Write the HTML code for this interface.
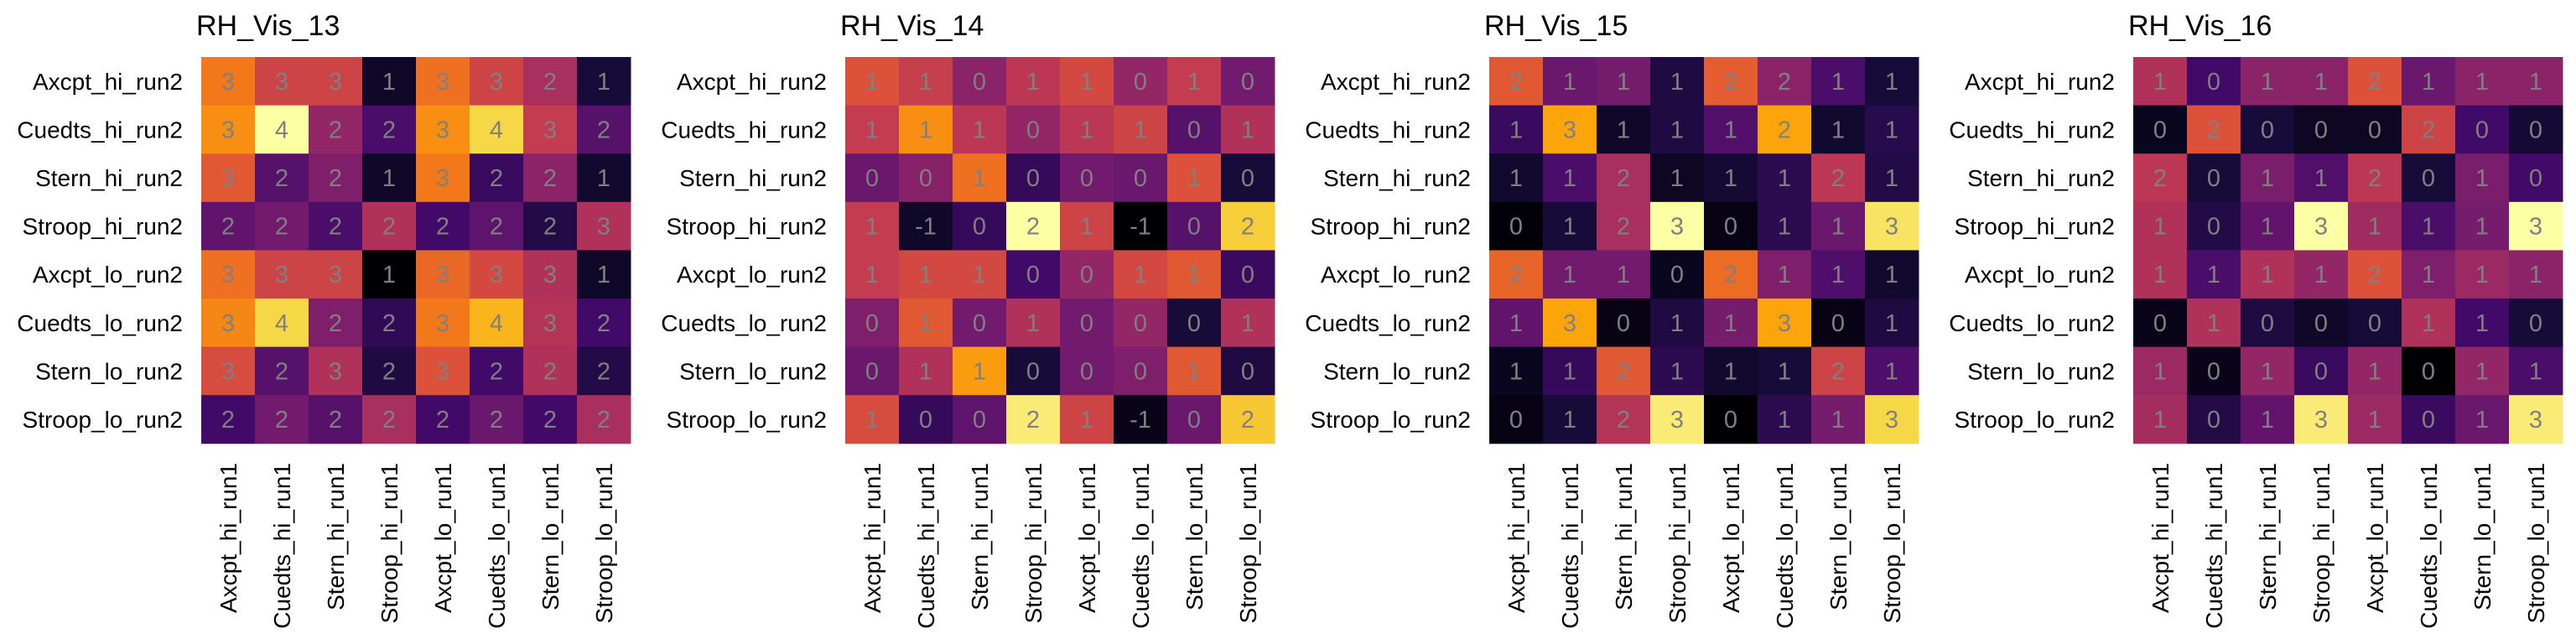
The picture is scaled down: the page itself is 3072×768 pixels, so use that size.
<!DOCTYPE html>
<html><head><meta charset="utf-8"><style>
html,body{margin:0;padding:0;background:#fff;}
svg{display:block;font-family:"Liberation Sans",Arial,sans-serif;}
</style></head><body>
<svg id="chart" width="3072" height="768" viewBox="0 0 3072 768" xmlns="http://www.w3.org/2000/svg"></svg>
<script>
const titles = ["RH_Vis_13","RH_Vis_14","RH_Vis_15","RH_Vis_16"];
const rowLabels = ["Axcpt_hi_run2","Cuedts_hi_run2","Stern_hi_run2","Stroop_hi_run2","Axcpt_lo_run2","Cuedts_lo_run2","Stern_lo_run2","Stroop_lo_run2"];
const colLabels = ["Axcpt_hi_run1","Cuedts_hi_run1","Stern_hi_run1","Stroop_hi_run1","Axcpt_lo_run1","Cuedts_lo_run1","Stern_lo_run1","Stroop_lo_run1"];
const labels13 = [[3,3,3,1,3,3,2,1],[3,4,2,2,3,4,3,2],[3,2,2,1,3,2,2,1],[2,2,2,2,2,2,2,3],[3,3,3,1,3,3,3,1],[3,4,2,2,3,4,3,2],[3,2,3,2,3,2,2,2],[2,2,2,2,2,2,2,2]];
const shade13 = [[0.7,0.55,0.55,0.07,0.68,0.55,0.45,0.1],[0.75,1.0,0.4,0.22,0.75,0.9,0.52,0.25],[0.62,0.25,0.35,0.07,0.7,0.18,0.38,0.08],[0.28,0.32,0.22,0.47,0.2,0.27,0.13,0.47],[0.68,0.55,0.55,0.0,0.66,0.57,0.47,0.07],[0.73,0.9,0.35,0.16,0.7,0.83,0.48,0.2],[0.58,0.25,0.47,0.12,0.6,0.2,0.47,0.13],[0.2,0.32,0.25,0.45,0.2,0.3,0.2,0.45]];
const labels14 = [[1,1,0,1,1,0,1,0],[1,1,1,0,1,1,0,1],[0,0,1,0,0,0,1,0],[1,-1,0,2,1,-1,0,2],[1,1,1,0,0,1,1,0],[0,1,0,1,0,0,0,1],[0,1,1,0,0,0,1,0],[1,0,0,2,1,-1,0,2]];
const shade14 = [[0.6,0.53,0.38,0.5,0.57,0.4,0.52,0.32],[0.52,0.75,0.5,0.4,0.5,0.55,0.25,0.47],[0.3,0.37,0.68,0.17,0.32,0.3,0.6,0.1],[0.52,0.07,0.17,1.0,0.55,0.0,0.25,0.88],[0.52,0.57,0.57,0.2,0.4,0.57,0.62,0.18],[0.35,0.62,0.32,0.47,0.32,0.4,0.1,0.47],[0.3,0.47,0.78,0.1,0.32,0.35,0.62,0.12],[0.58,0.17,0.27,0.95,0.55,0.04,0.3,0.87]];
const labels15 = [[2,1,1,1,2,2,1,1],[1,3,1,1,1,2,1,1],[1,1,2,1,1,1,2,1],[0,1,2,3,0,1,1,3],[2,1,1,0,2,1,1,1],[1,3,0,1,1,3,0,1],[1,1,2,1,1,1,2,1],[0,1,2,3,0,1,1,3]];
const shade15 = [[0.62,0.3,0.33,0.12,0.63,0.38,0.22,0.1],[0.18,0.8,0.07,0.12,0.24,0.8,0.08,0.14],[0.08,0.22,0.45,0.06,0.09,0.15,0.5,0.13],[0.01,0.1,0.45,1.0,0.03,0.15,0.3,0.93],[0.65,0.32,0.32,0.05,0.67,0.35,0.23,0.08],[0.28,0.8,0.03,0.12,0.33,0.8,0.03,0.12],[0.05,0.17,0.62,0.15,0.08,0.1,0.55,0.23],[0.03,0.1,0.48,0.95,0.0,0.15,0.33,0.9]];
const labels16 = [[1,0,1,1,2,1,1,1],[0,2,0,0,0,2,0,0],[2,0,1,1,2,0,1,0],[1,0,1,3,1,1,1,3],[1,1,1,1,2,1,1,1],[0,1,0,0,0,1,1,0],[1,0,1,0,1,0,1,1],[1,0,1,3,1,0,1,3]];
const shade16 = [[0.47,0.2,0.38,0.38,0.6,0.3,0.38,0.38],[0.05,0.6,0.1,0.06,0.06,0.55,0.2,0.09],[0.5,0.1,0.34,0.24,0.5,0.1,0.34,0.2],[0.47,0.13,0.28,1.0,0.43,0.22,0.33,1.0],[0.47,0.22,0.47,0.4,0.6,0.35,0.42,0.38],[0.04,0.47,0.12,0.07,0.1,0.47,0.2,0.1],[0.42,0.04,0.4,0.18,0.4,0.0,0.4,0.22],[0.44,0.13,0.28,0.95,0.42,0.18,0.3,0.95]];
const allLabels = [labels13,labels14,labels15,labels16];
const allShades = [shade13,shade14,shade15,shade16];

const inferno = [[0,0,4],[22,11,57],[66,10,104],[106,23,110],[147,38,103],[188,55,84],[221,81,58],[243,120,25],[252,165,10],[246,215,70],[252,255,164]];
function colorAt(t){
  t=Math.max(0,Math.min(1,t))*10; const i=Math.min(9,Math.floor(t)); const f=t-i;
  const a=inferno[i], b=inferno[i+1];
  return 'rgb('+a.map((v,k)=>Math.round(v+(b[k]-v)*f)).join(',')+')';
}
const NS="http://www.w3.org/2000/svg";
const svg=document.getElementById('chart');
const panelW=768, x0=240, y0=68, cw=64, ch=57.6;
function xPos(p,c){return p*panelW+x0+c*cw;}
function yPos(r){return y0+r*ch;}
function mk(tag,attrs,parent){const e=document.createElementNS(NS,tag);for(const k in attrs)e.setAttribute(k,attrs[k]);(parent||svg).appendChild(e);return e;}

titles.forEach((title,p)=>{
  const g=mk('g',{});
  
  
  const t=mk('text',{x:p*panelW+234,y:42,'font-size':34,fill:'#000'},g);
  t.textContent=title;
  
  
  rowLabels.forEach((lab,r)=>{
    const e=mk('text',{x:p*panelW+218,y:yPos(r)+ch/2+10,'font-size':28,'text-anchor':'end',fill:'#000'},g);
    e.textContent=lab;
    
    
  });
  colLabels.forEach((lab,c)=>{
    const cx=xPos(p,c)+cw/2+10, cy=552;
    const e=mk('text',{x:cx,y:cy,'font-size':28,'text-anchor':'end',fill:'#000',transform:'rotate(-90 '+cx+' '+cy+')'},g);
    e.textContent=lab;
    
    
  });
  const L=allLabels[p], S=allShades[p];
  for(let r=0;r<8;r++)for(let c=0;c<8;c++){
    const rect=mk('rect',{x:xPos(p,c),y:yPos(r),width:cw+0.5,height:ch+0.5,fill:colorAt(S[r][c])},g);
    
    
  }
  for(let r=0;r<8;r++)for(let c=0;c<8;c++){
    const tx=mk('text',{x:xPos(p,c)+cw/2,y:yPos(r)+ch/2+10,'font-size':29,'text-anchor':'middle',fill:'#808080'},g);
    tx.textContent=String(L[r][c]);
    
    
  }
});
</script>
</body></html>
